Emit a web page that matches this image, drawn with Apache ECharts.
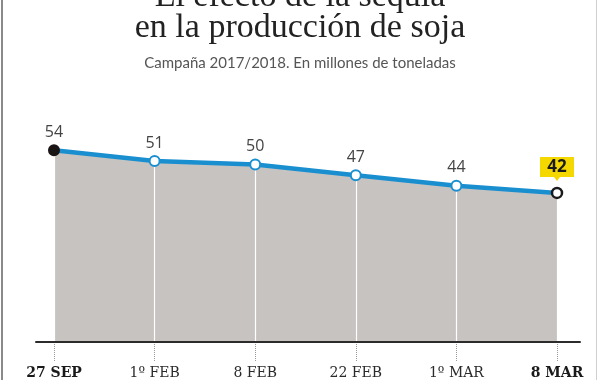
<!DOCTYPE html>
<html><head><meta charset="utf-8">
<script src="https://cdn.jsdelivr.net/npm/echarts@6/dist/echarts.min.js"></script>
<style>
html,body{margin:0;padding:0;background:#fff;}
#wrap{position:relative;width:600px;height:380px;overflow:hidden;background:#fff;}
#chart{position:absolute;left:0;top:0;width:600px;height:380px;}
#bl{position:absolute;left:1px;top:0;width:2px;height:380px;background:#8a8a8a;}
#br{position:absolute;left:596px;top:0;width:1px;height:380px;background:#d0d0d0;}
</style>
</head><body>
<div id="wrap"><div id="chart"></div><div id="bl"></div><div id="br"></div></div>
<script>
var titleLine1 = 'El efecto de la sequía';
var titleLine2 = 'en la producción de soja';
var subtitle = 'Campaña 2017/2018. En millones de toneladas';
var categories = ['27 SEP', '1º FEB', '8 FEB', '22 FEB', '1º MAR', '8 MAR'];
var values = [54, 51, 50, 47, 44, 42];
var boldLabels = ['27 SEP', '8 MAR'];

var chart = echarts.init(document.getElementById('chart'), null, {renderer: 'canvas'});
var serif = '"DejaVu Serif", "Liberation Serif", serif';
var titleSerif = '"Liberation Serif", serif';
var sans = '"Open Sans", "Noto Sans", sans-serif';
var subSans = 'Lato, "Open Sans", sans-serif';
var last = values.length - 1;

var lineData = values.map(function (v, i) {
  var d = {value: v};
  if (i === 0) {
    d.itemStyle = {color: '#1a1414', borderColor: '#1a1414'};
  } else if (i === last) {
    d.itemStyle = {color: '#ffffff', borderColor: '#1a1a1a', borderWidth: 2.5};
    d.label = {show: false};
  }
  return d;
});

chart.setOption({
  animation: false,
  title: [
    {text: titleLine1, left: 'center', top: -25, textStyle: {fontFamily: titleSerif, fontSize: 34, fontWeight: 'normal', color: '#222'}},
    {text: titleLine2, left: 'center', top: 6, textStyle: {fontFamily: titleSerif, fontSize: 34, fontWeight: 'normal', color: '#222'}},
    {text: subtitle, left: 'center', top: 51, textStyle: {fontFamily: subSans, fontSize: 15, fontWeight: 'normal', color: '#555'}}
  ],
  grid: [
    {left: 54, right: 43, top: 129, bottom: 38},
    {left: 36, right: 20, top: 129, bottom: 38}
  ],
  xAxis: [
    {
      type: 'category', gridIndex: 0, data: categories, boundaryGap: false, z: 3,
      axisLine: {show: false},
      axisTick: {show: true, interval: 0, length: 20, lineStyle: {color: '#9a9a9a', type: 'dotted', width: 1}},
      axisLabel: {
        interval: 0, margin: 24, fontFamily: serif, fontSize: 14, color: '#2a2a2a',
        formatter: function (v) { return boldLabels.indexOf(v) >= 0 ? '{b|' + v + '}' : v; },
        rich: {b: {fontFamily: serif, fontSize: 14, fontWeight: 'bold', color: '#1a1a1a'}}
      },
      splitLine: {show: true, interval: 0, lineStyle: {color: '#ffffff', width: 1.2}}
    },
    {
      type: 'value', gridIndex: 1, min: 0, max: 1, z: 4,
      axisLine: {show: true, onZero: false, lineStyle: {color: '#2b2b2b', width: 2}},
      axisTick: {show: false}, axisLabel: {show: false}, splitLine: {show: false}
    }
  ],
  yAxis: [
    {type: 'value', gridIndex: 0, min: 0, max: 60, show: false},
    {type: 'value', gridIndex: 1, min: 0, max: 1, show: false}
  ],
  series: [
    {
      type: 'line', data: values, z: 1, symbol: 'none',
      lineStyle: {width: 0}, areaStyle: {color: '#c6c3c1', opacity: 1}
    },
    {
      type: 'line', data: lineData, z: 5,
      symbol: 'circle', symbolSize: 10,
      lineStyle: {color: '#1a8fd0', width: 4.5},
      itemStyle: {color: '#ffffff', borderColor: '#1a8fd0', borderWidth: 2},
      label: {show: true, position: 'top', distance: 4, fontFamily: sans, fontSize: 16, color: '#444'},
      markPoint: {
        symbol: 'path://M0,0 H34 V20 H20 L17,24 L14,20 H0 Z',
        symbolSize: [34, 24],
        symbolOffset: [0, -24],
        itemStyle: {color: '#f4d800'},
        label: {show: true, offset: [0, -2], fontFamily: sans, fontSize: 17, fontWeight: 'bold', color: '#1a1a1a',
          formatter: function (p) { return p.value; }},
        data: [{coord: [last, values[last]], value: values[last]}]
      }
    }
  ]
});
</script>
</body></html>
